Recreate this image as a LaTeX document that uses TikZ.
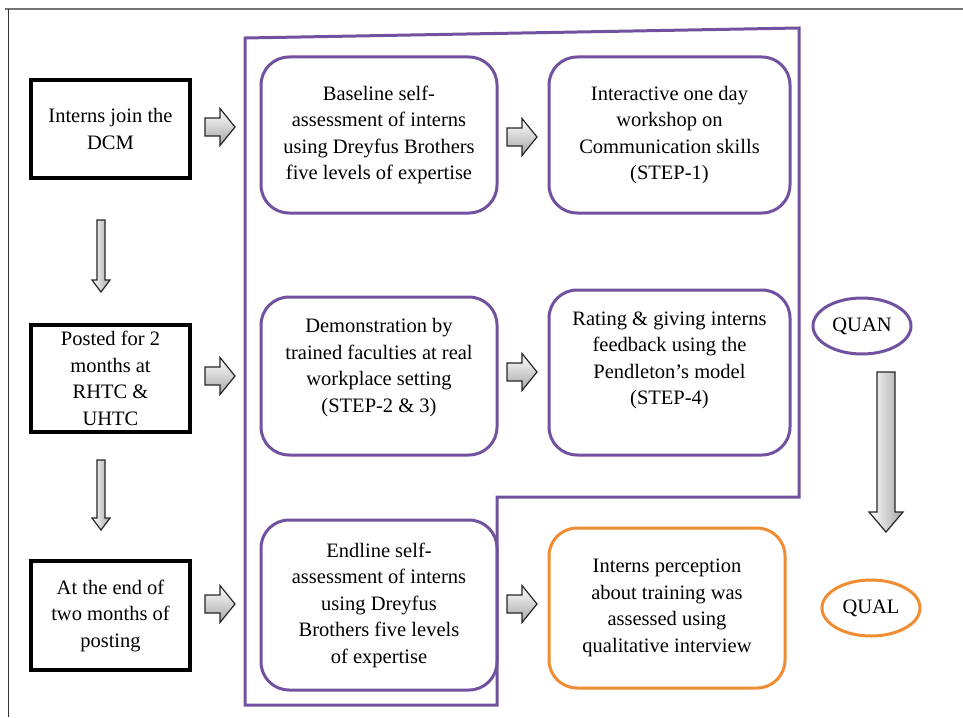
\documentclass[tikz,border=0pt]{standalone}
\usepackage{fontspec}
\setmainfont{Liberation Serif}
\usetikzlibrary{calc}
\definecolor{pur}{RGB}{112,82,160}
\definecolor{org}{RGB}{240,140,50}
\newcommand\txtf{\fontsize{20.5}{26.5}\selectfont}
\tikzset{
  blk/.style={draw=black, line width=3.5pt, minimum width=159pt, align=center, font=\txtf, inner sep=0pt},
  pbox/.style={draw=pur, line width=3pt, rounded corners=28pt, align=center, font=\txtf, inner sep=0pt},
  obox/.style={pbox, draw=org},
  oval/.style={draw, ellipse, line width=3pt, minimum width=98pt, minimum height=56pt, font=\txtf, inner sep=0pt},
}
\usetikzlibrary{shapes.geometric}
% right block arrow centred at #1
\newcommand\rblk[1]{\shade[draw=black!85, line width=1.2pt, top color=white, bottom color=black!35, line join=miter]
  ($(#1)+(-15,-9)$) -- ++(15,0) -- ++(0,-9.5) -- ++(15,18.5) -- ++(-15,18.5) -- ++(0,-9.5) -- ++(-15,0) -- cycle;}
% down block arrow: top #1, length #2, shaft half width #3, head half width #4, head length #5
\newcommand\dblk[5]{\shade[draw=black!85, line width=1.2pt, left color=white, right color=black!35, line join=miter]
  ($(#1)+(-#3,0)$) -- ++(2*#3,0) -- ++(0,#2-#5) -- ++(#4-#3,0) -- ++(-#4,#5) -- ++(-#4,-#5) -- ++(#4-#3,0) -- cycle;}
\begin{document}
\begin{tikzpicture}[x=1pt,y=-1pt]
\useasboundingbox (0,0) rectangle (963,717);
% frame
\draw[black!55, line width=1.5pt] (5,9) -- (963,9);
\draw[black!80, line width=1pt] (8,9) -- (8,717);
% purple enclosure
\draw[pur, line width=3pt, line join=miter] (245,38) -- (799,28) -- (799,497) -- (497,497) -- (497,705) -- (245,705) -- cycle;
% left column
\node[blk, minimum height=98pt] (join) at (110.5,129) {Interns join the\\DCM};
\node[blk, minimum height=107pt] (posted) at (110.5,378.5) {Posted for 2\\months at\\RHTC \&\\UHTC};
\node[blk, minimum height=109pt] (end) at (110.5,615.5) {At the end of\\two months of\\posting};
% purple boxes
\node[pbox, minimum width=236pt, minimum height=156pt] (base) at (379,135) {Baseline self-\\assessment of interns\\using Dreyfus Brothers\\five levels of expertise};
\node[pbox, minimum width=241pt, minimum height=156pt] (work) at (669.5,135) {Interactive one day\\workshop on\\Communication skills\\(STEP-1)};
\node[pbox, minimum width=236pt, minimum height=158pt, text depth=21pt] (demo) at (379,376) {Demonstration by\\trained faculties at real\\workplace setting\\(STEP-2 \& 3)};
\node[pbox, minimum width=241pt, minimum height=165pt, text depth=29pt] (rate) at (669.5,372.5) {Rating \& giving interns\\feedback using the\\Pendleton’s model\\(STEP-4)};
\node[pbox, minimum width=236pt, minimum height=170pt] (endl) at (379,605) {Endline self-\\assessment of interns\\using Dreyfus\\Brothers five levels\\of expertise};
\node[obox, minimum width=236pt, minimum height=160pt] (perc) at (667,608) {Interns perception\\about training was\\assessed using\\qualitative interview};
% ovals
\node[oval, draw=pur] (quan) at (862,326) {QUAN};
\node[oval, draw=org] (qual) at (871,608) {QUAL};
% block arrows
\coordinate (r1) at (220,127);
\coordinate (r2) at (522,137);
\coordinate (r3) at (220,376);
\coordinate (r4) at (522,372);
\coordinate (r5) at (220,604);
\coordinate (r6) at (522,604);
\rblk{r1}\rblk{r2}\rblk{r3}\rblk{r4}\rblk{r5}\rblk{r6}
\coordinate (d1) at (101,220);
\coordinate (d2) at (101,460);
\coordinate (d3) at (886,372);
\dblk{d1}{72}{4}{9}{12}
\dblk{d2}{70}{4}{9}{12}
\dblk{d3}{160}{9}{17}{20}
\end{tikzpicture}
\end{document}
